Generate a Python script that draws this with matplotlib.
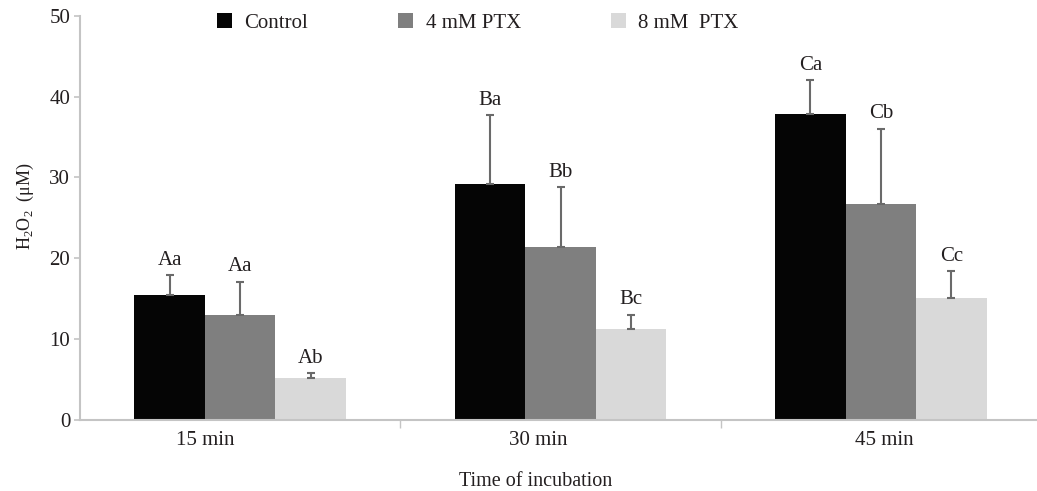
# H2O2 levels vs incubation time, grouped bars with upper error bars

import numpy as np
import matplotlib.pyplot as plt
from matplotlib.patches import Patch

plt.rcParams['font.family'] = ['Liberation Serif', 'DejaVu Serif']
plt.rcParams['mathtext.fontset'] = 'custom'
plt.rcParams['mathtext.rm'] = 'Liberation Serif'

# data
times = ["15 min", "30 min", "45 min"]
groups = ["Control", "4 mM PTX", "8 mM  PTX"]
control = [15.5, 29.2, 37.8]
ptx4 = [13.0, 21.4, 26.7]
ptx8 = [5.2, 11.2, 15.1]
control_err = [2.4, 8.5, 4.2]
ptx4_err = [4.1, 7.4, 9.3]
ptx8_err = [0.6, 1.8, 3.3]
control_lbl = ["Aa", "Ba", "Ca"]
ptx4_lbl = ["Aa", "Bb", "Cb"]
ptx8_lbl = ["Ab", "Bc", "Cc"]

colors = ["#050505", "#7f7f7f", "#d9d9d9"]
txt_col = "#231f20"
axis_col = "#c4c4c4"

fig = plt.figure(figsize=(10.37, 4.91), dpi=100)
ax = fig.add_axes([80/1037, 1-420/491, 961/1037, 404.3/491])

x = np.arange(len(times))
w = 0.22
series = [(control, control_err, control_lbl),
          (ptx4, ptx4_err, ptx4_lbl),
          (ptx8, ptx8_err, ptx8_lbl)]

for i, (vals, errs, lbls) in enumerate(series):
    pos = x + (i - 1) * w
    ax.bar(pos, vals, w, color=colors[i], linewidth=0, zorder=2)
    ax.errorbar(pos, vals, yerr=[np.zeros(len(vals)), errs], fmt="none",
                ecolor="#6a6a6a", elinewidth=1.5, capsize=3, capthick=1.5, zorder=3)
    for p, v, e, l in zip(pos, vals, errs, lbls):
        ax.annotate(l, (p, v + e), xytext=(0, 4), textcoords="offset points",
                    ha="center", va="bottom", fontsize=15, color=txt_col)

ax.set_xlim(-0.5, 2.5)
ax.set_ylim(0, 50)
ax.set_yticks([0, 10, 20, 30, 40, 50])

# category labels sit a little left of the group centres in the reference
ax.set_xticks([-0.11, 0.93, 2.01])
ax.set_xticklabels(times)
ax.set_xticks([0.5, 1.5], minor=True)
ax.tick_params(axis="x", which="major", length=0, pad=8, labelsize=15, labelcolor=txt_col)
ax.tick_params(axis="x", which="minor", length=6, width=1, color=axis_col, direction="out")
ax.tick_params(axis="y", length=4, width=1.2, color=axis_col, pad=3, labelsize=15, labelcolor=txt_col)

for s in ["top", "right"]:
    ax.spines[s].set_visible(False)
for s in ["left", "bottom"]:
    ax.spines[s].set_color(axis_col)
    ax.spines[s].set_linewidth(1.5)

ax.set_ylabel("H$_2$O$_2$  (μM)", fontsize=13, color=txt_col)
ax.yaxis.set_label_coords(-0.046, 0.53)
ax.set_xlabel("Time of incubation", fontsize=14.5, color=txt_col)
ax.xaxis.set_label_coords(0.4745, -0.128)

handles = [Patch(facecolor=c, edgecolor="none") for c in colors]
fig.legend(handles, groups, loc="upper left", bbox_to_anchor=(217/1037, 1-13/491),
           ncol=3, frameon=False, fontsize=15, handlelength=0.7, handleheight=0.7,
           handletextpad=0.6, columnspacing=4.35, borderpad=0, borderaxespad=0,
           labelcolor=txt_col)

plt.savefig("out.png", dpi=100)
